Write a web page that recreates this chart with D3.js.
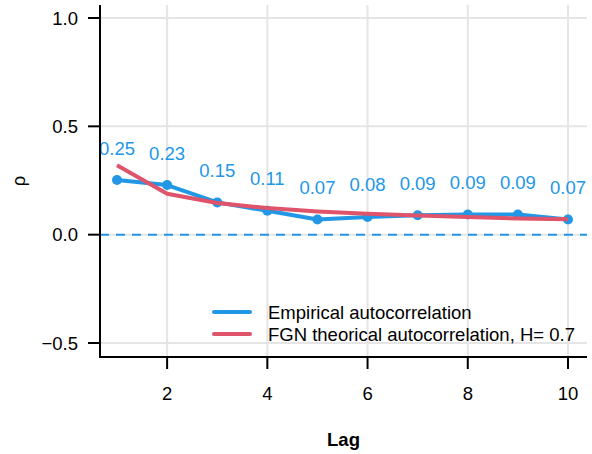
<!DOCTYPE html>
<html>
<head>
<meta charset="utf-8">
<script src="https://cdn.jsdelivr.net/npm/d3@7"></script>
<style>
  html, body { margin: 0; padding: 0; background: #fff; }
  svg { display: block; font-family: "Liberation Sans", Arial, Helvetica, sans-serif; }
</style>
</head>
<body>
<svg id="chart" width="592" height="454"></svg>
<script>
// ---- data ----
const lags = [1, 2, 3, 4, 5, 6, 7, 8, 9, 10];
const empirical = [0.252, 0.229, 0.149, 0.110, 0.070, 0.082, 0.090, 0.093, 0.093, 0.070];
const empiricalLabels = ["0.25", "0.23", "0.15", "0.11", "0.07", "0.08", "0.09", "0.09", "0.09", "0.07"];
const theoretical = [0.320, 0.189, 0.146, 0.123, 0.107, 0.096, 0.088, 0.081, 0.075, 0.071];
const xTicks = [2, 4, 6, 8, 10];
const yTicks = [-0.5, 0.0, 0.5, 1.0];
const yTickLabels = ["\u22120.5", "0.0", "0.5", "1.0"];
const legendLabels = ["Empirical autocorrelation", "FGN theorical autocorrelation, H= 0.7"];

// ---- layout ----
const blue = "#2297E6", red = "#DF536B";
const panel = { left: 100, right: 587, top: 5, bottom: 357 };
const fs = 18.5;
const svg = d3.select("#chart");

const x = d3.scaleLinear().domain([1, 10]).range([117, 568]);
const y = d3.scaleLinear().domain([-0.5, 1.0]).range([343, 18]);

// clip
svg.append("defs").append("clipPath").attr("id", "clip")
  .append("rect").attr("x", panel.left + 1).attr("y", panel.top)
  .attr("width", panel.right - panel.left).attr("height", panel.bottom - panel.top);

// gridlines
const grid = svg.append("g");
grid.selectAll("line.h").data(yTicks).join("line")
  .attr("x1", panel.left).attr("x2", panel.right)
  .attr("y1", d => y(d)).attr("y2", d => y(d))
  .attr("stroke", "#e5e5e5").attr("stroke-width", 2);
grid.selectAll("line.v").data(xTicks).join("line")
  .attr("x1", d => x(d)).attr("x2", d => x(d))
  .attr("y1", panel.top).attr("y2", panel.bottom)
  .attr("stroke", "#e5e5e5").attr("stroke-width", 2);

// zero dashed line
svg.append("line")
  .attr("x1", panel.left).attr("x2", panel.right)
  .attr("y1", y(0)).attr("y2", y(0))
  .attr("stroke", blue).attr("stroke-width", 2)
  .attr("stroke-dasharray", "9,7");

const plot = svg.append("g").attr("clip-path", "url(#clip)");
const line = d3.line().x((d, i) => x(lags[i])).y(d => y(d));

plot.append("path").datum(empirical)
  .attr("d", line).attr("fill", "none")
  .attr("stroke", blue).attr("stroke-width", 4).attr("stroke-linejoin", "round");
plot.selectAll("circle").data(empirical).join("circle")
  .attr("cx", (d, i) => x(lags[i])).attr("cy", d => y(d)).attr("r", 5)
  .attr("fill", blue);
plot.append("path").datum(theoretical)
  .attr("d", line).attr("fill", "none")
  .attr("stroke", red).attr("stroke-width", 4).attr("stroke-linejoin", "round");

plot.selectAll("text.lab").data(empirical).join("text")
  .attr("x", (d, i) => x(lags[i])).attr("y", d => y(d) - 32)
  .attr("text-anchor", "middle").attr("dominant-baseline", "central")
  .attr("font-size", fs).attr("fill", blue)
  .text((d, i) => empiricalLabels[i]);

// axes
const ax = svg.append("g");
ax.append("line").attr("x1", panel.left).attr("x2", panel.left)
  .attr("y1", panel.top).attr("y2", panel.bottom + 1)
  .attr("stroke", "#000").attr("stroke-width", 2);
ax.append("line").attr("x1", panel.left - 1).attr("x2", panel.right)
  .attr("y1", panel.bottom).attr("y2", panel.bottom)
  .attr("stroke", "#000").attr("stroke-width", 2);

ax.selectAll("line.yt").data(yTicks).join("line")
  .attr("x1", 88).attr("x2", panel.left)
  .attr("y1", d => y(d)).attr("y2", d => y(d))
  .attr("stroke", "#000").attr("stroke-width", 2);
ax.selectAll("text.yl").data(yTicks).join("text")
  .attr("x", 78).attr("y", d => y(d))
  .attr("text-anchor", "end").attr("dominant-baseline", "central")
  .attr("font-size", fs).attr("fill", "#000")
  .text((d, i) => yTickLabels[i]);

ax.selectAll("line.xt").data(xTicks).join("line")
  .attr("x1", d => x(d)).attr("x2", d => x(d))
  .attr("y1", panel.bottom).attr("y2", 369)
  .attr("stroke", "#000").attr("stroke-width", 2);
ax.selectAll("text.xl").data(xTicks).join("text")
  .attr("x", d => x(d)).attr("y", 393)
  .attr("text-anchor", "middle").attr("dominant-baseline", "central")
  .attr("font-size", fs).attr("fill", "#000")
  .text(d => d);

// axis titles
svg.append("text").attr("x", (panel.left + panel.right) / 2).attr("y", 439)
  .attr("text-anchor", "middle").attr("dominant-baseline", "central")
  .attr("font-size", fs).attr("font-weight", "bold").text("Lag");
svg.append("text")
  .attr("transform", `translate(18,${(panel.top + panel.bottom) / 2}) rotate(-90)`)
  .attr("text-anchor", "middle").attr("dominant-baseline", "central")
  .attr("font-size", fs).text("\u03C1");

// legend
const legend = svg.append("g");
const legendColors = [blue, red];
const legendY = [312, 334];
legend.selectAll("line").data(legendLabels).join("line")
  .attr("x1", 214).attr("x2", 250)
  .attr("y1", (d, i) => legendY[i]).attr("y2", (d, i) => legendY[i])
  .attr("stroke", (d, i) => legendColors[i]).attr("stroke-width", 4)
  .attr("stroke-linecap", "round");
legend.selectAll("text").data(legendLabels).join("text")
  .attr("x", 268).attr("y", (d, i) => legendY[i])
  .attr("dominant-baseline", "central")
  .attr("font-size", fs).attr("fill", "#000")
  .text(d => d);
</script>
</body>
</html>
